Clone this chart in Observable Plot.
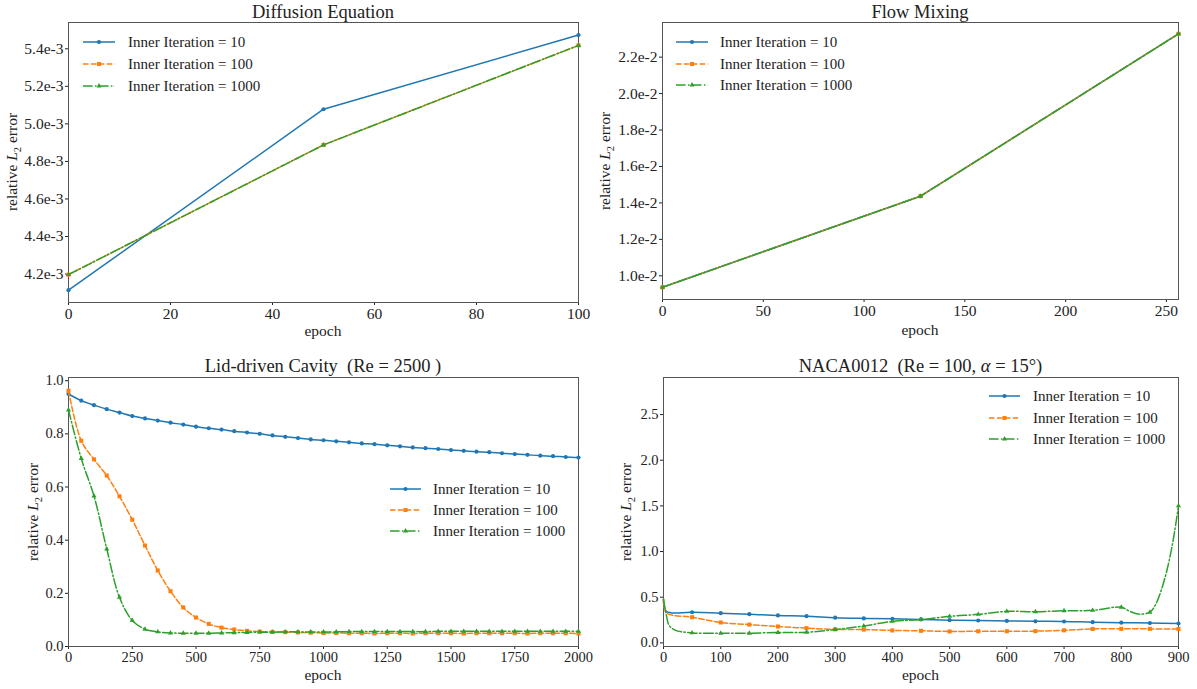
<!DOCTYPE html>
<html><head><meta charset="utf-8">
<script src="https://cdn.jsdelivr.net/npm/d3@7"></script>
<script src="https://cdn.jsdelivr.net/npm/@observablehq/plot@0.6"></script>
<style>
body{margin:0;background:#fff;}
#root{position:relative;width:1197px;height:689px;overflow:hidden;font-family:"Liberation Serif","Times New Roman",serif;color:#222;background:#fff;}
.abs{position:absolute;white-space:nowrap;line-height:1;}
.title{font-size:18.5px;transform:translate(-50%,-50%);}
.xlab{font-size:15.5px;transform:translate(-50%,-50%);}
.ylab{font-size:15.5px;transform:translate(-50%,-50%) rotate(-90deg);}
.leg{font-size:15px;transform:translateY(-50%);}
.panel{position:absolute;}
.panel text{font-family:"Liberation Serif","Times New Roman",serif !important;}
</style></head><body><div id="root"></div><script>
// ---------- series meta ----------
const seriesNames = ["Inner Iteration = 10", "Inner Iteration = 100", "Inner Iteration = 1000"];
const seriesColors = ["#1f77b4", "#ff7f0e", "#2ca02c"];
const seriesDash = [null, "5.5,2.4", "9.6,2.4,1.5,2.4"];
const seriesSymbols = ["circle", "square", "triangle"];

// ---------- Diffusion Equation ----------
const diffEpoch = [0, 50, 100];
const diffIter10 = [4.114e-3, 5.078e-3, 5.473e-3];
const diffIter100 = [4.197e-3, 4.888e-3, 5.418e-3];
const diffIter1000 = [4.197e-3, 4.888e-3, 5.418e-3];
const diffXTicks = [0, 20, 40, 60, 80, 100];
const diffYTicks = [4.2e-3, 4.4e-3, 4.6e-3, 4.8e-3, 5.0e-3, 5.2e-3, 5.4e-3];

// ---------- Flow Mixing ----------
const flowEpoch = [0, 128, 256];
const flowIter10 = [0.937e-2, 1.437e-2, 2.328e-2];
const flowIter100 = [0.937e-2, 1.437e-2, 2.328e-2];
const flowIter1000 = [0.937e-2, 1.437e-2, 2.328e-2];
const flowXTicks = [0, 50, 100, 150, 200, 250];
const flowYTicks = [1.0e-2, 1.2e-2, 1.4e-2, 1.6e-2, 1.8e-2, 2.0e-2, 2.2e-2];

// ---------- Lid-driven Cavity ----------
const lidEpoch = [0, 50, 100, 150, 200, 250, 300, 350, 400, 450, 500, 550, 600, 650, 700, 750, 800, 850, 900, 950, 1000,
  1050, 1100, 1150, 1200, 1250, 1300, 1350, 1400, 1450, 1500, 1550, 1600, 1650, 1700, 1750, 1800, 1850, 1900, 1950, 2000];
const lidIter10 = [0.950, 0.925, 0.908, 0.893, 0.880, 0.867, 0.858, 0.850, 0.842, 0.835, 0.827, 0.821, 0.816, 0.810, 0.805,
  0.800, 0.794, 0.789, 0.784, 0.779, 0.776, 0.772, 0.768, 0.764, 0.761, 0.757, 0.753, 0.749, 0.746, 0.743, 0.739, 0.736,
  0.733, 0.731, 0.727, 0.724, 0.721, 0.718, 0.716, 0.713, 0.711];
const lidIter100 = [0.962, 0.774, 0.704, 0.643, 0.565, 0.477, 0.380, 0.286, 0.208, 0.147, 0.109, 0.085, 0.071, 0.064, 0.059,
  0.056, 0.055, 0.054, 0.053, 0.052, 0.051, 0.051, 0.050, 0.050, 0.049, 0.050, 0.050, 0.049, 0.050, 0.050, 0.050, 0.049,
  0.050, 0.050, 0.050, 0.050, 0.049, 0.050, 0.050, 0.050, 0.049];
const lidIter1000 = [0.890, 0.707, 0.566, 0.367, 0.185, 0.098, 0.065, 0.055, 0.051, 0.050, 0.050, 0.050, 0.051, 0.052, 0.053,
  0.054, 0.054, 0.055, 0.055, 0.055, 0.055, 0.055, 0.056, 0.056, 0.056, 0.056, 0.056, 0.056, 0.056, 0.057, 0.057, 0.057,
  0.057, 0.057, 0.057, 0.057, 0.057, 0.057, 0.057, 0.057, 0.057];
const lidXTicks = [0, 250, 500, 750, 1000, 1250, 1500, 1750, 2000];
const lidYTicks = [0.0, 0.2, 0.4, 0.6, 0.8, 1.0];

// ---------- NACA0012 ----------
const nacaEpoch10 = [0, 5, 50, 100, 150, 200, 250, 300, 350, 400, 450, 500, 550, 600, 650, 700, 750, 800, 850, 900];
const nacaIter10 = [0.48, 0.345, 0.335, 0.325, 0.314, 0.300, 0.292, 0.276, 0.268, 0.263, 0.256, 0.248, 0.245, 0.240, 0.236,
  0.234, 0.226, 0.221, 0.217, 0.212];
const nacaEpoch100 = [0, 5, 50, 100, 150, 200, 250, 300, 350, 400, 450, 500, 550, 600, 650, 700, 750, 800, 850, 900];
const nacaIter100 = [0.48, 0.33, 0.281, 0.223, 0.200, 0.179, 0.161, 0.148, 0.145, 0.136, 0.132, 0.125, 0.127, 0.127, 0.128,
  0.137, 0.152, 0.153, 0.153, 0.152];
const nacaEpoch1000 = [0, 5, 10, 20, 50, 100, 150, 200, 250, 300, 350, 400, 450, 500, 550, 600, 650, 700, 750, 800, 815, 830,
  850, 860, 870, 880, 890, 900];
const nacaIter1000 = [0.48, 0.30, 0.19, 0.14, 0.109, 0.106, 0.106, 0.114, 0.116, 0.146, 0.185, 0.235, 0.255, 0.290, 0.312,
  0.345, 0.340, 0.352, 0.356, 0.390, 0.345, 0.315, 0.336, 0.42, 0.58, 0.80, 1.10, 1.50];
const nacaXTicks = [0, 100, 200, 300, 400, 500, 600, 700, 800, 900];
const nacaYTicks = [0.0, 0.5, 1.0, 1.5, 2.0, 2.5];

const FONT = '"Liberation Serif", "Times New Roman", serif';
const root = document.getElementById("root");

function addDiv(cls, html, left, top) {
  const d = document.createElement("div");
  d.className = "abs " + cls;
  d.innerHTML = html;
  d.style.left = left + "px";
  d.style.top = top + "px";
  root.appendChild(d);
  return d;
}

function swatch(i, x0, x1, y) {
  const w = x1 - x0, h = 12;
  const ns = "http://www.w3.org/2000/svg";
  const svg = document.createElementNS(ns, "svg");
  svg.setAttribute("width", w); svg.setAttribute("height", h);
  svg.style.position = "absolute"; svg.style.left = x0 + "px"; svg.style.top = (y - h / 2) + "px";
  svg.style.overflow = "visible";
  const line = document.createElementNS(ns, "line");
  line.setAttribute("x1", 0); line.setAttribute("x2", w); line.setAttribute("y1", h / 2); line.setAttribute("y2", h / 2);
  line.setAttribute("stroke", seriesColors[i]); line.setAttribute("stroke-width", 1.5);
  if (seriesDash[i]) line.setAttribute("stroke-dasharray", seriesDash[i]);
  svg.appendChild(line);
  const sym = document.createElementNS(ns, "path");
  const symType = [d3.symbolCircle, d3.symbolSquare, d3.symbolTriangle][i];
  const rr = [2.1, 2.3, 1.9][i];
  sym.setAttribute("d", d3.symbol(symType, Math.PI * rr * rr)());
  sym.setAttribute("transform", `translate(${w / 2},${h / 2})`);
  sym.setAttribute("fill", seriesColors[i]);
  svg.appendChild(sym);
  root.appendChild(svg);
}

function panel(cfg) {
  const marks = [Plot.frame({stroke: "#555", strokeWidth: 1})];
  cfg.series.forEach((s, i) => {
    const rows = s.x.map((e, k) => ({epoch: e, value: s.y[k]}));
    marks.push(Plot.line(rows, {
      x: "epoch", y: "value", stroke: seriesColors[i], strokeWidth: 1.5,
      strokeDasharray: seriesDash[i] || undefined, curve: cfg.curve || "linear"
    }));
    marks.push(Plot.dot(rows.filter(cfg.markerFilter || (() => true)), {
      x: "epoch", y: "value", symbol: seriesSymbols[i], fill: seriesColors[i], stroke: "none",
      r: [2.1, 2.3, 1.9][i]
    }));
  });
  const chart = Plot.plot({
    width: cfg.width, height: cfg.height,
    marginLeft: cfg.m[0], marginRight: cfg.m[1], marginTop: cfg.m[2], marginBottom: cfg.m[3],
    style: {fontFamily: FONT, fontSize: cfg.fontSize + "px", color: "#222", background: "transparent", overflow: "visible"},
    x: {domain: cfg.xDomain, ticks: cfg.xTicks, tickFormat: d => String(d), tickSize: 3, tickPadding: 2, label: null},
    y: {domain: cfg.yDomain, ticks: cfg.yTicks, tickFormat: cfg.yFormat, tickSize: 3, tickPadding: 2, label: null},
    marks
  });
  chart.classList.add("panel");
  chart.setAttribute("font-family", FONT);
  chart.style.left = cfg.left + "px";
  chart.style.top = cfg.top + "px";
  root.appendChild(chart);

  const fx0 = cfg.left + cfg.m[0], fx1 = cfg.left + cfg.width - cfg.m[1];
  const cx = (fx0 + fx1) / 2;
  const fy0 = cfg.top + cfg.m[2], fy1 = cfg.top + cfg.height - cfg.m[3];
  addDiv("title", cfg.title, cx, cfg.titleY);
  addDiv("xlab", "epoch", cx, cfg.xlabY);
  addDiv("ylab", 'relative <i>L</i><sub style="font-size:10.5px">2</sub> error', cfg.ylabX, (fy0 + fy1) / 2);
  cfg.legendY.forEach((y, i) => {
    swatch(i, cfg.legendX[0], cfg.legendX[1], y);
    addDiv("leg", seriesNames[i], cfg.legendX[2], y);
  });
}

const fmtE3 = d => (d * 1e3).toFixed(1) + "e-3";
const fmtE2 = d => (d * 1e2).toFixed(1) + "e-2";
const fmt1 = d => d.toFixed(1);

panel({
  left: 0, top: 0, width: 595, height: 340, m: [68, 17, 22, 38], fontSize: 15.5,
  xDomain: [0, 100], xTicks: diffXTicks, yDomain: [4.0485e-3, 5.540e-3], yTicks: diffYTicks, yFormat: fmtE3,
  series: [{x: diffEpoch, y: diffIter10}, {x: diffEpoch, y: diffIter100}, {x: diffEpoch, y: diffIter1000}],
  title: "Diffusion Equation", titleY: 12, xlabY: 331, ylabX: 14,
  legendX: [83, 115, 128], legendY: [42, 64, 86]
});
panel({
  left: 597, top: 0, width: 600, height: 340, m: [65, 19, 22, 41], fontSize: 15.5,
  xDomain: [0, 256], xTicks: flowXTicks, yDomain: [0.870e-2, 2.390e-2], yTicks: flowYTicks, yFormat: fmtE2,
  series: [{x: flowEpoch, y: flowIter10}, {x: flowEpoch, y: flowIter100}, {x: flowEpoch, y: flowIter1000}],
  title: "Flow Mixing", titleY: 12, xlabY: 330, ylabX: 607,
  legendX: [676, 708, 720], legendY: [42, 63.5, 85]
});
panel({
  left: 0, top: 340, width: 595, height: 349, m: [68, 17, 37, 43], fontSize: 14.5,
  xDomain: [0, 2000], xTicks: lidXTicks, yDomain: [0, 1.012], yTicks: lidYTicks, yFormat: fmt1,
  curve: "catmull-rom",
  series: [{x: lidEpoch, y: lidIter10}, {x: lidEpoch, y: lidIter100}, {x: lidEpoch, y: lidIter1000}],
  title: "Lid-driven Cavity&nbsp; (Re = 2500 )", titleY: 366, xlabY: 675, ylabX: 35,
  legendX: [390, 421, 433], legendY: [489, 510, 531]
});
panel({
  left: 597, top: 340, width: 600, height: 349, m: [66, 19, 37, 43], fontSize: 14.5,
  xDomain: [0, 900], xTicks: nacaXTicks, yDomain: [-0.04, 2.906], yTicks: nacaYTicks, yFormat: fmt1,
  curve: "catmull-rom", markerFilter: r => r.epoch > 0 && r.epoch % 50 === 0,
  series: [{x: nacaEpoch10, y: nacaIter10}, {x: nacaEpoch100, y: nacaIter100}, {x: nacaEpoch1000, y: nacaIter1000}],
  title: "NACA0012&nbsp; (Re = 100, <i>α</i> = 15°)", titleY: 366, xlabY: 675, ylabX: 628,
  legendX: [989, 1020, 1033], legendY: [396, 417.5, 439]
});
</script></body></html>
